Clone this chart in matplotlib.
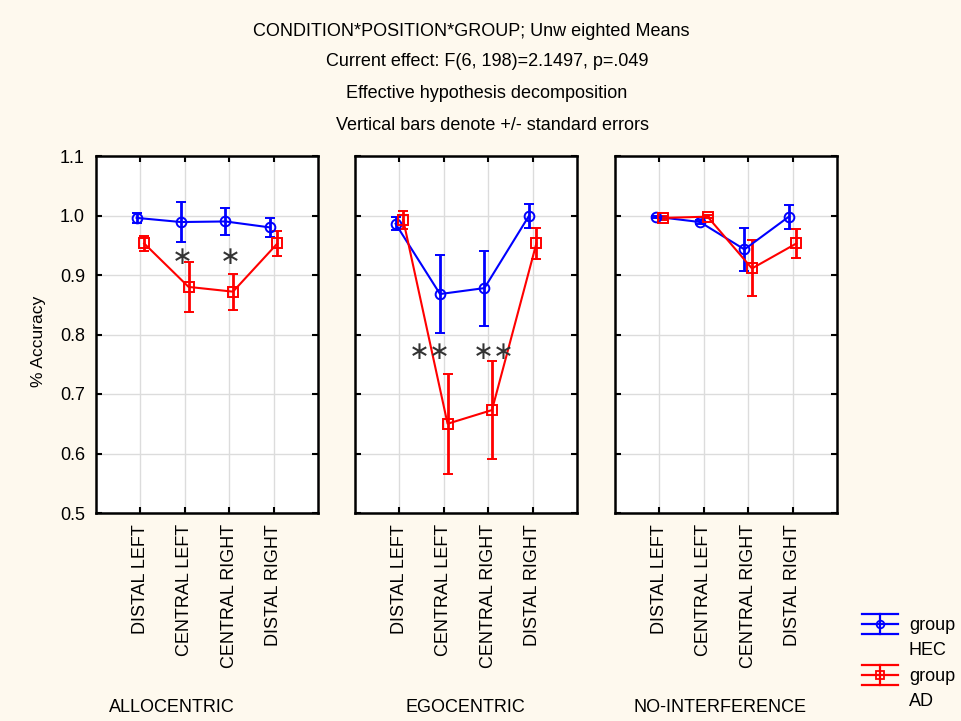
import numpy as np
import matplotlib
matplotlib.use('Agg')
import matplotlib.pyplot as plt
from matplotlib.lines import Line2D
from matplotlib.legend_handler import HandlerBase

plt.rcParams['font.family'] = ['Liberation Sans', 'DejaVu Sans']

positions = ['DISTAL LEFT', 'CENTRAL LEFT', 'CENTRAL RIGHT', 'DISTAL RIGHT']
conditions = ['ALLOCENTRIC', 'EGOCENTRIC', 'NO-INTERFERENCE']

# group HEC means / standard errors per condition
hec_allo = [0.996, 0.989, 0.990, 0.980]
hec_allo_se = [0.009, 0.033, 0.023, 0.016]
hec_ego = [0.986, 0.868, 0.878, 0.999]
hec_ego_se = [0.011, 0.065, 0.063, 0.020]
hec_noint = [0.998, 0.989, 0.943, 0.998]
hec_noint_se = [0.002, 0.003, 0.036, 0.020]

# group AD
ad_allo = [0.953, 0.880, 0.872, 0.953]
ad_allo_se = [0.012, 0.042, 0.030, 0.021]
ad_ego = [0.993, 0.650, 0.673, 0.953]
ad_ego_se = [0.015, 0.084, 0.082, 0.026]
ad_noint = [0.996, 0.998, 0.911, 0.953]
ad_noint_se = [0.003, 0.003, 0.047, 0.025]

# significance stars: (panel, x, y, text)
stars = [(0, 1.94, 0.931, '\u2217'), (0, 3.02, 0.931, '\u2217'),
         (1, 1.69, 0.771, '\u2217\u2217'), (1, 3.13, 0.771, '\u2217\u2217')]

titles = ['CONDITION*POSITION*GROUP; Unw eighted Means',
          'Current effect: F(6, 198)=2.1497, p=.049',
          'Effective hypothesis decomposition',
          'Vertical bars denote +/- standard errors']

hec = [(hec_allo, hec_allo_se), (hec_ego, hec_ego_se), (hec_noint, hec_noint_se)]
ad = [(ad_allo, ad_allo_se), (ad_ego, ad_ego_se), (ad_noint, ad_noint_se)]

bg = '#fef9ee'
fig = plt.figure(figsize=(9.61, 7.21), dpi=100, facecolor=bg)

lefts = [96, 355, 615]
x = np.arange(1, 5)
axes = []
for k in range(3):
    ax = fig.add_axes([lefts[k] / 961, 208 / 721, 222 / 961, 357 / 721])
    axes.append(ax)
    ax.set_facecolor('white')
    for (m, s), col, mk, dx in [(hec[k], 'blue', 'o', -0.085), (ad[k], 'red', 's', 0.085)]:
        ax.errorbar(x + dx, m, yerr=s, color=col, marker=mk, mfc='none', mec=col,
                    ms=7, mew=1.4, lw=1.5, elinewidth=2, capsize=3.5, capthick=1.8, zorder=3)
    ax.set_xlim(0, 5)
    ax.set_ylim(0.5, 1.1)
    ax.set_xticks(x)
    ax.set_xticklabels(positions, rotation=90, fontsize=13)
    ax.set_yticks(np.arange(0.5, 1.11, 0.1))
    if k == 0:
        ax.set_yticklabels(['%.1f' % v for v in np.arange(0.5, 1.11, 0.1)], fontsize=13)
    else:
        ax.set_yticklabels([])
    ax.tick_params(direction='in', length=4, width=1.5, top=True, right=True, pad=8)
    ax.grid(True, color='#dcdcdc', lw=1)
    ax.set_axisbelow(True)
    for sp in ax.spines.values():
        sp.set_linewidth(1.8)

for k, xs, ys, t in stars:
    axes[k].text(xs, ys, t, ha='center', va='center', fontsize=18, color='#333333',
                 family='DejaVu Sans', zorder=4)

for t, yy, xx in zip(titles, [31, 62, 94, 126], [471, 487, 487, 492]):
    fig.text(xx / 961, 1 - yy / 721, t, ha='center', va='center', fontsize=13)

for t, xx in zip(conditions, [172, 465, 720]):
    fig.text(xx / 961, 1 - 707 / 721, t, ha='center', va='center', fontsize=13)

fig.text(38 / 961, 1 - 341 / 721, '% Accuracy', rotation=90, ha='center', va='center', fontsize=12.5)


class StatHandler(HandlerBase):
    def create_artists(self, legend, orig_handle, xdescent, ydescent, width, height, fontsize, trans):
        c = orig_handle.get_color()
        mk = orig_handle.get_marker()
        yc = height / 2 - ydescent + 10
        h = 7
        arts = []
        for yy in [yc - h, yc, yc + h]:
            arts.append(Line2D([-xdescent, width - xdescent], [yy, yy], color=c, lw=1.6, transform=trans))
        arts.append(Line2D([width / 2 - xdescent] * 2, [yc - h, yc + h], color=c, lw=1.6, transform=trans))
        arts.append(Line2D([width / 2 - xdescent], [yc], color=c, marker=mk, mfc='none', mec=c,
                           ms=5.5, mew=1.3, transform=trans))
        return arts


h1 = Line2D([], [], color='blue', marker='o')
h2 = Line2D([], [], color='red', marker='s')
leg = fig.legend([h1, h2], ['group\nHEC', 'group\nAD'], handler_map={Line2D: StatHandler()},
                 loc='upper left', bbox_to_anchor=(862 / 961, 1 - 617 / 721), frameon=False,
                 fontsize=13, handlelength=2.0, handletextpad=0.6, labelspacing=0.5,
                 borderaxespad=0, borderpad=0)
for t in leg.get_texts():
    t.set_linespacing(1.6)

fig.savefig('out.png', dpi=100, facecolor=bg)
